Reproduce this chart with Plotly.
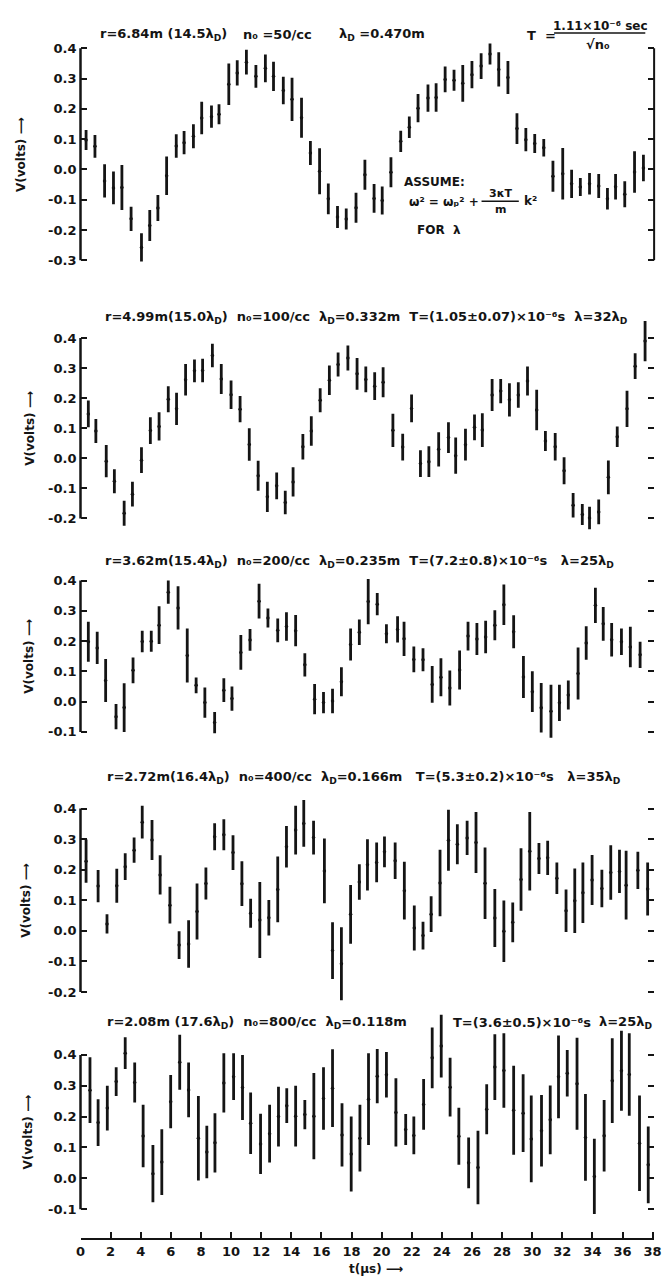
import plotly.graph_objects as go

W, H = 668, 1280
FONT = "DejaVu Sans"
INK = "#141414"

# ---- measured probe voltage (low / high end of each bar) vs time (µs) ----
P1_T = [0.37, 0.96, 1.6, 2.19, 2.75, 3.36, 4.05, 4.6, 5.14, 5.72, 6.36, 6.88, 7.5, 8.05, 8.7, 9.2,
        9.85, 10.41, 11.02, 11.65, 12.28, 12.82, 13.47, 14.05, 14.68, 15.27, 15.88, 16.46, 17.07,
        17.65, 18.3, 18.89, 19.5, 20.04, 20.62, 21.27, 21.84, 22.42, 23.08, 23.62, 24.22, 24.81,
        25.39, 26.0, 26.61, 27.2, 27.78, 28.39, 28.99, 29.58, 30.17, 30.77, 31.38, 32.03, 32.62,
        33.2, 33.81, 34.42, 35.0, 35.54, 36.15, 36.8, 37.39]
P1_LO = [0.064, 0.039, -0.093, -0.115, -0.134, -0.203, -0.304, -0.236, -0.170, -0.084, 0.039, 0.050,
         0.070, 0.116, 0.138, 0.149, 0.213, 0.277, 0.314, 0.270, 0.288, 0.259, 0.215, 0.160, 0.105,
         0.015, -0.082, -0.148, -0.193, -0.198, -0.176, -0.067, -0.143, -0.149, -0.059, 0.058, 0.104,
         0.156, 0.191, 0.191, 0.255, 0.260, 0.224, 0.268, 0.299, 0.347, 0.274, 0.249, 0.084, 0.060,
         0.054, 0.043, -0.074, -0.099, -0.094, -0.088, -0.083, -0.094, -0.132, -0.099, -0.125,
         -0.077, -0.039]
P1_HI = [0.130, 0.114, 0.017, -0.007, 0.015, -0.123, -0.211, -0.134, -0.084, 0.043, 0.116, 0.127,
         0.149, 0.224, 0.211, 0.215, 0.350, 0.361, 0.395, 0.345, 0.380, 0.356, 0.306, 0.303, 0.237,
         0.094, 0.070, -0.046, -0.121, -0.129, -0.077, 0.032, -0.048, -0.056, 0.040, 0.128, 0.175,
         0.249, 0.281, 0.285, 0.340, 0.329, 0.345, 0.358, 0.384, 0.416, 0.387, 0.358, 0.186, 0.137,
         0.117, 0.101, 0.029, 0.071, -0.001, -0.028, -0.012, -0.015, -0.061, -0.015, -0.039, 0.060,
         0.049]

P2_T = [0.52, 1.02, 1.71, 2.25, 2.9, 3.45, 4.05, 4.64, 5.22, 5.83, 6.38, 6.98, 7.57, 8.11, 8.76, 9.35,
        10.0, 10.6, 11.21, 11.8, 12.41, 13.03, 13.6, 14.12, 14.77, 15.33, 15.92, 16.53, 17.11, 17.76,
        18.37, 18.95, 19.54, 20.1, 20.75, 21.4, 21.99, 22.58, 23.14, 23.79, 24.44, 24.92, 25.57,
        26.17, 26.69, 27.34, 27.91, 28.49, 29.08, 29.69, 30.3, 30.88, 31.53, 32.12, 32.72, 33.33,
        33.81, 34.42, 35.06, 35.65, 36.3, 36.84, 37.5]
P2_LO = [0.103, 0.051, -0.063, -0.116, -0.224, -0.160, -0.049, 0.048, 0.059, 0.153, 0.111, 0.209,
         0.253, 0.253, 0.303, 0.214, 0.164, 0.120, -0.008, -0.108, -0.178, -0.136, -0.186, -0.127,
         -0.004, 0.042, 0.153, 0.211, 0.272, 0.292, 0.228, 0.220, 0.194, 0.203, 0.038, -0.007, 0.120,
         -0.062, -0.062, -0.027, 0.018, -0.051, -0.007, 0.060, 0.038, 0.157, 0.183, 0.139, 0.168,
         0.209, 0.093, 0.024, -0.007, -0.086, -0.197, -0.222, -0.236, -0.219, -0.119, 0.038, 0.104,
         0.264, 0.323]
P2_HI = [0.192, 0.131, 0.044, -0.036, -0.141, -0.078, 0.037, 0.137, 0.153, 0.240, 0.218, 0.314,
         0.329, 0.331, 0.381, 0.314, 0.259, 0.207, 0.100, -0.008, -0.078, -0.047, -0.108, -0.030,
         0.081, 0.140, 0.233, 0.309, 0.352, 0.375, 0.334, 0.305, 0.286, 0.303, 0.148, 0.082, 0.212,
         0.027, 0.040, 0.087, 0.120, 0.069, 0.098, 0.146, 0.150, 0.264, 0.264, 0.250, 0.253, 0.305,
         0.228, 0.091, 0.084, 0.004, -0.115, -0.152, -0.161, -0.137, -0.007, 0.106, 0.225, 0.349,
         0.457]

P3_T = [0.52, 1.11, 1.67, 2.36, 2.9, 3.49, 4.1, 4.7, 5.22, 5.83, 6.48, 7.09, 7.68, 8.26, 8.91, 9.52,
        10.06, 10.65, 11.26, 11.86, 12.45, 13.1, 13.68, 14.29, 14.9, 15.55, 16.14, 16.74, 17.33,
        17.94, 18.52, 19.11, 19.71, 20.32, 21.06, 21.49, 22.14, 22.75, 23.36, 23.94, 24.53, 25.18,
        25.74, 26.33, 26.91, 27.52, 28.12, 28.77, 29.42, 30.01, 30.6, 31.25, 31.81, 32.4, 33.05,
        33.59, 34.2, 34.72, 35.28, 35.93, 36.52, 37.17]
P3_LO = [0.132, 0.124, -0.001, -0.091, -0.100, 0.061, 0.163, 0.165, 0.190, 0.323, 0.238, 0.063,
         0.028, -0.053, -0.104, -0.001, -0.030, 0.105, 0.168, 0.275, 0.245, 0.196, 0.201, 0.183,
         0.083, -0.042, -0.038, -0.038, 0.018, 0.136, 0.187, 0.256, 0.285, 0.193, 0.195, 0.151,
         0.097, 0.100, -0.004, 0.018, -0.013, 0.040, 0.169, 0.154, 0.160, 0.203, 0.253, 0.176, 0.012,
         -0.034, -0.102, -0.119, -0.064, -0.026, 0.007, 0.138, 0.260, 0.201, 0.149, 0.154, 0.114,
         0.111]
P3_HI = [0.264, 0.231, 0.141, -0.008, 0.061, 0.146, 0.234, 0.234, 0.315, 0.400, 0.381, 0.242, 0.080,
         0.047, -0.034, 0.077, 0.050, 0.220, 0.240, 0.389, 0.308, 0.275, 0.295, 0.286, 0.160, 0.058,
         0.032, 0.043, 0.114, 0.242, 0.271, 0.405, 0.359, 0.256, 0.282, 0.264, 0.182, 0.176, 0.118,
         0.143, 0.103, 0.169, 0.264, 0.260, 0.267, 0.302, 0.387, 0.285, 0.151, 0.100, 0.062, 0.056,
         0.056, 0.070, 0.179, 0.249, 0.376, 0.313, 0.260, 0.242, 0.247, 0.198]

P4_T = [0.37, 1.17, 1.76, 2.41, 2.97, 3.56, 4.1, 4.75, 5.29, 5.94, 6.55, 7.18, 7.74, 8.33, 8.91, 9.52,
        10.13, 10.72, 11.3, 11.91, 12.51, 13.1, 13.68, 14.29, 14.83, 15.48, 16.2, 16.74, 17.33,
        17.94, 18.52, 19.06, 19.67, 20.19, 20.9, 21.51, 22.17, 22.75, 23.29, 23.88, 24.44, 25.03,
        25.68, 26.27, 26.87, 27.52, 28.12, 28.71, 29.26, 29.84, 30.45, 31.03, 31.64, 32.25, 32.83,
        33.37, 33.98, 34.63, 35.22, 35.8, 36.24, 37.02, 37.67]
P4_LO = [0.157, 0.094, -0.009, 0.092, 0.166, 0.223, 0.302, 0.232, 0.119, 0.024, -0.092, -0.121,
         -0.028, 0.103, 0.264, 0.264, 0.199, 0.081, 0.010, -0.089, -0.015, 0.028, 0.207, 0.250,
         0.275, 0.250, 0.090, -0.157, -0.227, -0.042, 0.102, 0.132, 0.159, 0.208, 0.170, 0.037,
         -0.064, -0.061, -0.004, 0.048, 0.197, 0.218, 0.248, 0.189, 0.039, -0.053, -0.102, -0.037,
         0.066, 0.132, 0.186, 0.183, 0.121, -0.004, -0.007, 0.026, 0.085, 0.077, 0.102, 0.124,
         0.037, 0.137, 0.050]
P4_HI = [0.299, 0.199, 0.054, 0.203, 0.254, 0.305, 0.409, 0.363, 0.247, 0.144, -0.001, 0.035, 0.155,
         0.207, 0.352, 0.365, 0.313, 0.228, 0.105, 0.160, 0.101, 0.243, 0.343, 0.409, 0.428, 0.360,
         0.302, 0.028, 0.012, 0.150, 0.218, 0.300, 0.289, 0.309, 0.289, 0.226, 0.083, 0.030, 0.113,
         0.265, 0.396, 0.349, 0.360, 0.389, 0.273, 0.137, 0.099, 0.093, 0.270, 0.389, 0.287, 0.295,
         0.224, 0.135, 0.204, 0.224, 0.248, 0.200, 0.280, 0.265, 0.262, 0.259, 0.224]

P5_T = [0.63, 1.17, 1.78, 2.37, 2.97, 3.6, 4.16, 4.81, 5.4, 5.99, 6.59, 7.18, 7.83, 8.39, 8.93, 9.52,
        10.17, 10.76, 11.3, 11.96, 12.56, 13.15, 13.7, 14.29, 14.9, 15.5, 16.14, 16.74, 17.37,
        17.98, 18.56, 19.13, 19.71, 20.32, 20.95, 21.6, 22.14, 22.79, 23.36, 23.96, 24.55, 25.13,
        25.78, 26.4, 26.98, 27.52, 28.12, 28.77, 29.4, 29.94, 30.62, 31.2, 31.75, 32.33, 32.98,
        33.54, 34.13, 34.78, 35.32, 35.93, 36.45, 37.13, 37.71]
P5_LO = [0.179, 0.105, 0.155, 0.267, 0.354, 0.246, 0.036, -0.078, -0.054, 0.162, 0.287, 0.198,
         -0.007, 0.000, 0.019, 0.213, 0.254, 0.189, 0.079, 0.014, 0.051, 0.103, 0.179, 0.103, 0.159,
         0.062, 0.157, 0.166, 0.038, -0.043, 0.022, 0.108, 0.243, 0.262, 0.103, 0.108, 0.078, 0.157,
         0.292, 0.327, 0.200, 0.044, -0.032, -0.084, 0.143, 0.254, 0.229, 0.076, 0.085, -0.013,
         0.038, 0.078, 0.195, 0.265, 0.157, -0.008, -0.116, 0.022, 0.179, 0.219, 0.203, -0.041,
         -0.081]
P5_HI = [0.392, 0.256, 0.300, 0.360, 0.457, 0.375, 0.238, 0.108, 0.159, 0.335, 0.465, 0.375, 0.267,
         0.170, 0.211, 0.405, 0.405, 0.400, 0.278, 0.209, 0.238, 0.297, 0.292, 0.300, 0.254, 0.341,
         0.360, 0.418, 0.243, 0.200, 0.238, 0.405, 0.419, 0.409, 0.324, 0.208, 0.200, 0.322, 0.489,
         0.530, 0.391, 0.229, 0.132, 0.154, 0.305, 0.467, 0.470, 0.365, 0.337, 0.268, 0.270, 0.301,
         0.463, 0.416, 0.456, 0.273, 0.128, 0.254, 0.454, 0.478, 0.470, 0.268, 0.168]

SERIES = [(P1_T, P1_LO, P1_HI), (P2_T, P2_LO, P2_HI), (P3_T, P3_LO, P3_HI),
          (P4_T, P4_LO, P4_HI), (P5_T, P5_LO, P5_HI)]

T_TICKS = list(range(0, 39, 2))

# ---- page geometry (pixels) ----
X_LEFT, X_RIGHT = 77, 662
T_MAX = 38.1
X_AXIS_ROW = 1240
LABEL_SIZE = 13
# row of V = 0, pixels per volt, shown range, lowest / highest tick (tenths)
GEOM = [
    dict(zero=169.6, ppv=303.0, rng=(-0.33, 0.45), tick=(-3, 4)),
    dict(zero=458.7, ppv=301.0, rng=(-0.25, 0.47), tick=(-2, 4)),
    dict(zero=702.2, ppv=303.0, rng=(-0.13, 0.43), tick=(-1, 4)),
    dict(zero=931.6, ppv=306.0, rng=(-0.25, 0.45), tick=(-2, 4)),
    dict(zero=1179.2, ppv=308.7, rng=(-0.12, 0.55), tick=(-1, 4)),
]
YTITLE_X = [17, 26, 25, 22, 23]

fig = go.Figure()
layout = dict(
    width=W, height=H,
    margin=dict(l=0, r=0, t=0, b=0),
    paper_bgcolor="white", plot_bgcolor="white",
    showlegend=False,
    font=dict(family=FONT, color=INK, size=12),
)
shapes, annotations = [], []


def px_x(x):
    return x / W


def px_y(y):
    return 1 - y / H


def label(x, y, text, size=LABEL_SIZE, xanchor="left", angle=0):
    annotations.append(dict(
        x=px_x(x), y=px_y(y), xref="paper", yref="paper", text=text, showarrow=False,
        xanchor=xanchor, yanchor="middle", textangle=angle,
        font=dict(family=FONT, size=size, color=INK, weight="bold")))


def rule(x0, x1, y):
    shapes.append(dict(type="line", xref="paper", yref="paper", x0=px_x(x0), x1=px_x(x1),
                       y0=px_y(y), y1=px_y(y), line=dict(color=INK, width=1.5)))


for i, ((t, lo, hi), g) in enumerate(zip(SERIES, GEOM), start=1):
    sfx = "" if i == 1 else str(i)
    mid = [(a + b) / 2 for a, b in zip(lo, hi)]
    half = [(b - a) / 2 for a, b in zip(lo, hi)]
    fig.add_trace(go.Scatter(
        x=t, y=mid, mode="markers", xaxis="x" + sfx, yaxis="y" + sfx,
        marker=dict(size=3.5, color=INK),
        error_y=dict(type="data", array=half, symmetric=True, width=0, thickness=2.8, color=INK),
        hoverinfo="skip"))

    top_px = g["zero"] - g["rng"][1] * g["ppv"]
    bot_px = g["zero"] - g["rng"][0] * g["ppv"]
    tvals = [k / 10 for k in range(g["tick"][0], g["tick"][1] + 1)]
    layout["yaxis" + sfx] = dict(
        domain=[px_y(bot_px), px_y(top_px)], range=list(g["rng"]), anchor="x" + sfx,
        tickvals=tvals, ticktext=[f"{v:.1f}" for v in tvals],
        ticks="inside", ticklen=6, tickwidth=2, tickcolor=INK, mirror="ticks",
        showline=False, showgrid=False, zeroline=False, ticklabelstandoff=3,
        tickfont=dict(family=FONT, size=13, color=INK, weight="bold"))
    layout["xaxis" + sfx] = dict(
        domain=[px_x(X_LEFT), px_x(X_RIGHT)], range=[0, T_MAX], anchor="y" + sfx,
        showgrid=False, zeroline=False, visible=False)

    # left bracket of the voltage scale
    shapes.append(dict(type="line", xref=f"x{sfx} domain", yref="y" + sfx,
                       x0=0, x1=0, y0=tvals[0], y1=tvals[-1],
                       line=dict(color=INK, width=2.5)))

    # rotated axis title, centred on the tick span
    label(YTITLE_X[i - 1], g["zero"] - (tvals[0] + tvals[-1]) / 2 * g["ppv"],
          "V(volts) ⟶", size=12, xanchor="center", angle=-90)

# right bracket on the first panel
shapes.append(dict(type="line", xref="x domain", yref="y", x0=1, x1=1, y0=-0.3, y1=0.4,
                   line=dict(color=INK, width=2)))

# shared time axis at the bottom
layout["xaxis5"].update(
    visible=True, anchor="free", position=px_y(X_AXIS_ROW),
    showline=True, linewidth=2, linecolor=INK,
    ticks="inside", ticklen=6, tickwidth=2, tickcolor=INK,
    tickvals=T_TICKS, ticktext=[str(v) for v in T_TICKS], ticklabeloverflow="allow",
    tickfont=dict(family=FONT, size=13, color=INK, weight="bold"))
label(378, 1270, "t(µs) ⟶", size=12, xanchor="center")

# panel headings
label(95, 35, "r=6.84m (14.5λ<sub>D</sub>)")
label(241, 35, "n₀ =50/cc")
label(339, 35, "λ<sub>D</sub> =0.470m")
label(530, 36, "T  =")
label(607, 26, "1.11×10⁻⁶ sec", size=12, xanchor="center")
rule(560, 653, 33)
label(605, 45, "√n₀", xanchor="center")

label(405, 182, "ASSUME:", size=12)
label(410, 202, "ω² = ωₚ² +", size=12)
label(505, 194, "3κT", size=11, xanchor="center")
rule(486, 524, 201.5)
label(505, 210, "m", size=11, xanchor="center")
label(527, 201, "k²", size=12)
label(418, 230, "FOR  λ", size=12)

label(100, 318, "r=4.99m(15.0λ<sub>D</sub>)  n₀=100/cc  λ<sub>D</sub>=0.332m  "
                "T=(1.05±0.07)×10⁻⁶s  λ=32λ<sub>D</sub>")
label(100, 562, "r=3.62m(15.4λ<sub>D</sub>)  n₀=200/cc  λ<sub>D</sub>=0.235m  "
                "T=(7.2±0.8)×10⁻⁶s   λ=25λ<sub>D</sub>")
label(102, 778, "r=2.72m(16.4λ<sub>D</sub>)  n₀=400/cc  λ<sub>D</sub>=0.166m   "
                "T=(5.3±0.2)×10⁻⁶s   λ=35λ<sub>D</sub>")
label(102, 1023, "r=2.08m (17.6λ<sub>D</sub>)  n₀=800/cc  λ<sub>D</sub>=0.118m")
label(455, 1023, "T=(3.6±0.5)×10⁻⁶s")
label(604, 1023, "λ=25λ<sub>D</sub>")

layout["shapes"] = shapes
layout["annotations"] = annotations
fig.update_layout(**layout)
fig.write_html("out.html")
